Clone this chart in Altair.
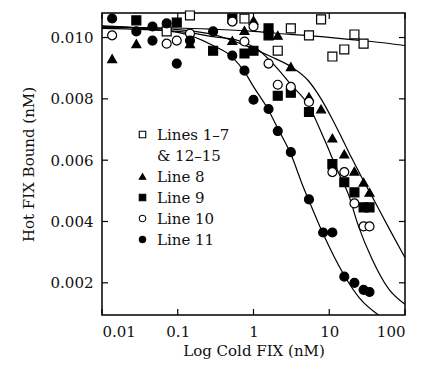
import altair as alt
import pandas as pd

# ---------------- data ----------------
series_order = ["Lines 1–7", "\u00a0\u00a0& 12–15", "Line 8", "Line 9", "Line 10", "Line 11"]

lines_1_7_x = [0.0714, 0.145, 0.76, 2.09, 3.11, 5.4, 7.8, 11, 15.8, 21.5, 28.4]
lines_1_7_y = [0.01020, 0.01072, 0.01062, 0.00957, 0.01030, 0.01007, 0.01059, 0.00938, 0.00961, 0.01010, 0.00980]

line8_x = [0.0136, 0.0284, 0.145, 0.525, 0.76, 1.0, 2.09, 3.11, 5.4, 7.8, 11, 15.8, 21.5, 28.4, 34]
line8_y = [0.00931, 0.00980, 0.00980, 0.00990, 0.01023, 0.01056, 0.01007, 0.00905, 0.00807, 0.00767,
           0.00672, 0.00620, 0.00564, 0.00528, 0.00495]

line9_x = [0.0284, 0.097, 0.293, 0.525, 0.76, 1.0, 1.58, 1.58, 2.09, 3.11, 5.4, 11, 15.8, 21.5, 28.4, 34]
line9_y = [0.01056, 0.01049, 0.00957, 0.01062, 0.00948, 0.00957, 0.01030, 0.01007, 0.00810, 0.00820,
           0.00757, 0.00587, 0.00528, 0.00495, 0.00446, 0.00446]

line10_x = [0.0136, 0.0714, 0.097, 0.145, 0.525, 0.76, 1.0, 1.58, 2.09, 3.11, 5.4, 11, 15.8, 21.5, 28.4, 34]
line10_y = [0.01007, 0.00980, 0.00990, 0.01013, 0.01052, 0.00987, 0.01036, 0.00915, 0.00846, 0.00839,
            0.00790, 0.00561, 0.00561, 0.00459, 0.00384, 0.00384]

line11_x = [0.0136, 0.0284, 0.0464, 0.0464, 0.0714, 0.097, 0.145, 0.293, 0.525, 0.76, 1.0, 1.58, 2.09,
            3.11, 5.4, 8.3, 11, 15.8, 21.5, 28.4, 34]
line11_y = [0.01062, 0.01020, 0.01036, 0.00990, 0.01046, 0.00915, 0.00990, 0.01020, 0.00941, 0.00892,
            0.00797, 0.00767, 0.00695, 0.00626, 0.00472, 0.00364, 0.00364, 0.00220, 0.00200, 0.00177, 0.00170]

# fitted curves
fit_flat_x = [0.01, 0.1, 0.293, 1.0, 3.11, 10.6, 36.3, 100]
fit_flat_y = [0.01033, 0.01031, 0.01027, 0.01020, 0.01010, 0.01000, 0.00987, 0.00974]

fit_l8_x = [0.01, 0.1, 0.293, 0.73, 1.69, 3.11, 5.3, 7.8, 10.6, 14.5, 19.5, 26.8, 38.6, 60.8, 100]
fit_l8_y = [0.01036, 0.01026, 0.01010, 0.00977, 0.00938, 0.00905, 0.00859, 0.00800, 0.00741, 0.00675,
            0.00610, 0.00544, 0.00472, 0.00380, 0.00282]

fit_mid_x = [0.01, 0.1, 0.293, 0.67, 1.13, 2.09, 3.11, 5.3, 8.6, 13.2, 17.8, 24.3, 36.3, 60.8, 100]
fit_mid_y = [0.01030, 0.01020, 0.01003, 0.00988, 0.00962, 0.00898, 0.00847, 0.00780, 0.00668, 0.00560,
             0.00490, 0.00385, 0.00280, 0.00180, 0.00130]

fit_l11_x = [0.01, 0.1, 0.293, 0.525, 0.78, 1.0, 1.58, 2.09, 3.11, 4.5, 5.4, 8.3, 15.8, 25.1, 44.7]
fit_l11_y = [0.01038, 0.01017, 0.00974, 0.00936, 0.00884, 0.00840, 0.00763, 0.00704, 0.00620, 0.00515,
             0.00468, 0.00360, 0.00224, 0.00150, 0.00095]

x_ticks = [0.01, 0.1, 1, 10, 100]
y_ticks = [0.002, 0.004, 0.006, 0.008, 0.010]

# ---------------- tables ----------------
rows = []
for name, xs, ys in [
    (series_order[0], lines_1_7_x, lines_1_7_y),
    ("Line 8", line8_x, line8_y),
    ("Line 9", line9_x, line9_y),
    ("Line 10", line10_x, line10_y),
    ("Line 11", line11_x, line11_y),
]:
    for a, b in zip(xs, ys):
        rows.append({"series": name, "cold": a, "hot": b})
pts = pd.DataFrame(rows)

crows = []
for name, xs, ys in [("flat", fit_flat_x, fit_flat_y), ("l8", fit_l8_x, fit_l8_y),
                     ("mid", fit_mid_x, fit_mid_y), ("l11", fit_l11_x, fit_l11_y)]:
    for i, (a, b) in enumerate(zip(xs, ys)):
        crows.append({"curve": name, "cold": a, "hot": b, "i": i})
curves = pd.DataFrame(crows)

W, H = 303, 302
FONT = "DejaVu Serif"
TXT = "#111111"

xscale = alt.Scale(type="log", domain=[0.01, 100], nice=False)
yscale = alt.Scale(domain=[0.00095, 0.0108], nice=False, zero=False)

xax = alt.Axis(values=x_ticks, labelExpr="datum.value >= 1 ? format(datum.value, 'd') : format(datum.value, '')",
               ticks=False, grid=False, labelPadding=9, titlePadding=4,
               title="Log Cold FIX (nM)")
yax = alt.Axis(values=y_ticks, format=".3f", ticks=False, grid=False, labelPadding=9,
               titlePadding=14, title="Hot FIX Bound (nM)")

X = alt.X("cold:Q", scale=xscale, axis=xax)
Y = alt.Y("hot:Q", scale=yscale, axis=yax)

leg = alt.Legend(title=None, orient="none", legendX=33, legendY=114,
                 labelFont=FONT, labelFontSize=15, labelColor=TXT,
                 symbolSize=42, symbolStrokeColor="black", symbolStrokeWidth=1.1,
                 rowPadding=5, labelOffset=7, symbolOpacity=1)

points = alt.Chart(pts).mark_point(strokeWidth=1.2, opacity=1, fillOpacity=1, size=80).encode(
    x=X, y=Y,
    shape=alt.Shape("series:N", scale=alt.Scale(
        domain=series_order,
        range=["square", "M0,0", "triangle-up", "square", "circle", "circle"]), legend=leg),
    fill=alt.Fill("series:N", scale=alt.Scale(
        domain=series_order,
        range=["white", "white", "black", "black", "white", "black"]), legend=leg),
    stroke=alt.Stroke("series:N", scale=alt.Scale(
        domain=series_order,
        range=["black", "white", "black", "black", "black", "black"]), legend=leg),
)

lines = alt.Chart(curves).mark_line(color="black", strokeWidth=1.2, interpolate="monotone", clip=True).encode(
    x=alt.X("cold:Q", scale=xscale), y=alt.Y("hot:Q", scale=yscale), detail="curve:N", order="i:Q")

# inward ticks on all four sides
xt = pd.DataFrame({"cold": x_ticks})
yt = pd.DataFrame({"hot": y_ticks})
tk = dict(color="black", strokeWidth=1.2)
xb = alt.Chart(xt).mark_rule(**tk).encode(x=alt.X("cold:Q", scale=xscale), y=alt.value(H), y2=alt.value(H - 6))
xtp = alt.Chart(xt).mark_rule(**tk).encode(x=alt.X("cold:Q", scale=xscale), y=alt.value(0), y2=alt.value(6))
yl = alt.Chart(yt).mark_rule(**tk).encode(y=alt.Y("hot:Q", scale=yscale), x=alt.value(0), x2=alt.value(6))
yr = alt.Chart(yt).mark_rule(**tk).encode(y=alt.Y("hot:Q", scale=yscale), x=alt.value(W), x2=alt.value(W - 6))

chart = alt.layer(lines, xb, xtp, yl, yr, points).properties(
    width=W, height=H,
    autosize=alt.AutoSizeParams(type="none"),
    padding={"left": 94, "top": 5, "right": 10, "bottom": 47},
).configure_view(stroke="black", strokeWidth=1.5).configure_axis(
    domain=False, labelFont=FONT, labelFontSize=15, labelColor=TXT,
    titleFont=FONT, titleFontSize=15, titleFontWeight="normal", titleColor=TXT,
)

chart.save("out.html", embed_options={"renderer": "svg", "actions": False})
